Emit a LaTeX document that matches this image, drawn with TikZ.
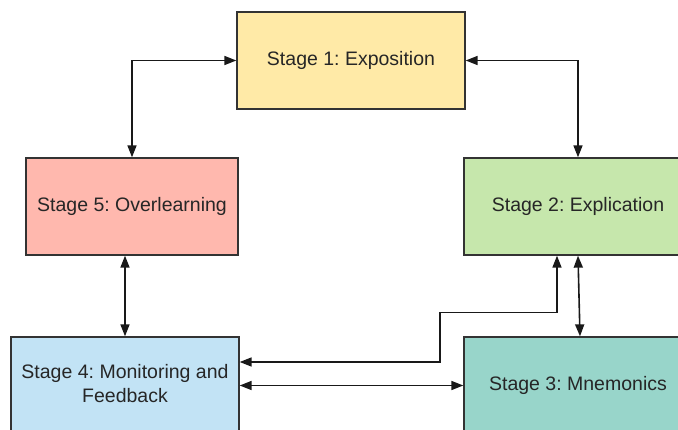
\documentclass[tikz,border=0pt]{standalone}
\usepackage{fontspec}
\setmainfont{Liberation Sans}
\usetikzlibrary{arrows.meta}
\definecolor{c1}{HTML}{FFEAA7}
\definecolor{c5}{HTML}{FFB8AE}
\definecolor{c2}{HTML}{C6E7AC}
\definecolor{c4}{HTML}{C2E3F5}
\definecolor{c3}{HTML}{98D5CA}
\definecolor{bd}{HTML}{333333}
\frenchspacing
\tikzset{
  stagebox/.style={draw=bd, line width=1.3pt, rectangle, minimum height=97pt, inner sep=0pt, align=center,
    font=\fontsize{19.5}{24}\selectfont, text=black!85},
  conn/.style={line width=1.6pt, black!90, {Triangle[length=12pt,width=9pt]}-{Triangle[length=12pt,width=9pt]}}
}
\begin{document}
\begin{tikzpicture}[x=1pt,y=-1pt]
\useasboundingbox (0,0) rectangle (678,429);
\node[stagebox, fill=c1, minimum width=228pt] (s1) at (351,60.5) {Stage 1: Exposition};
\node[stagebox, fill=c5, minimum width=212pt] (s5) at (132,206.5) {Stage 5: Overlearning};
\node[stagebox, fill=c2, minimum width=228pt] (s2) at (578,206.5) {Stage 2: Explication};
\node[stagebox, fill=c4, minimum width=228pt] (s4) at (125,385.5) {\raisebox{3pt}{\begin{tabular}{@{}c@{}}Stage 4: Monitoring and\\Feedback\end{tabular}}};
\node[stagebox, fill=c3, minimum width=228pt] (s3) at (578,385.5) {Stage 3: Mnemonics};
\coordinate (m) at (440,362);
\draw[conn] (s1.west) -| (s5.north);
\draw[conn] (s1.east) -| (s2.north);
\draw[conn] (s4.north |- s5.south) -- (s4.north);
\draw[conn] ([xshift=-21pt]s2.south) -- ++(0,57) -| (m) -- (s4.east |- m);
\draw[conn] (s2.south) -- ([xshift=2pt]s3.north);
\draw[conn] (s4.east) -- (s3.west);
\end{tikzpicture}
\end{document}
